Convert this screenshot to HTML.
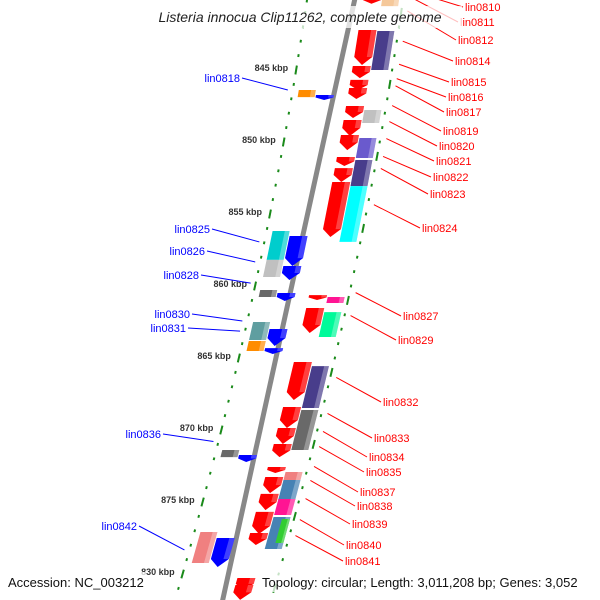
<!DOCTYPE html>
<html><head><meta charset="utf-8"><style>
html,body{margin:0;padding:0;background:#fff;}
svg{display:block;font-family:"Liberation Sans",sans-serif;}
</style></head><body>
<svg id="map" width="600" height="600" viewBox="0 0 600 600">
<g id="ticks"></g>
<line id="bb"/>
<g id="genes"></g>
<g id="labels"></g>
<rect x="140" y="6" width="322" height="22" fill="#fff" fill-opacity="0.75"/>
<text x="300" y="22" text-anchor="middle" font-size="14" font-style="italic" fill="#222">Listeria innocua Clip11262, complete genome</text>
<rect x="4" y="572" width="142" height="20" fill="#fff" fill-opacity="0.75"/>
<text x="8" y="587" font-size="13" fill="#111">Accession: NC_003212</text>
<rect x="258" y="572" width="336" height="20" fill="#fff" fill-opacity="0.75"/>
<text x="262" y="587" font-size="13" fill="#111">Topology: circular; Length: 3,011,208 bp; Genes: 3,052</text>
</svg>
<script>
// ---- data ----
const tickKbp = [845, 850, 855, 860, 865, 870, 875, 880];
const tickLabels = ["845 kbp","850 kbp","855 kbp","860 kbp","865 kbp","870 kbp","875 kbp","830 kbp"];
const fwdCdsStart = [839.9, 842.22, 844.72, 845.69, 846.25, 847.5, 848.47, 849.51, 851.04, 851.81, 852.78, 860.63, 861.53, 865.28, 868.4, 869.86, 870.97, 872.57, 873.26, 874.44, 875.69, 877.15, 880.28, 880.76];
const fwdCdsEnd   = [840.4, 844.65, 845.56, 846.39, 847.01, 848.33, 849.58, 850.56, 851.67, 852.78, 856.6, 860.97, 863.26, 867.92, 869.86, 870.97, 871.88, 872.99, 874.38, 875.56, 877.22, 877.99, 281.1+600, 881.8];
const fwdBoxStart = [839.8, 840.1, 842.29, 847.78, 849.72, 851.25, 853.06, 860.76, 861.81, 865.56, 868.61, 872.92, 873.47, 874.79, 876.04, 876.18];
const fwdBoxEnd   = [840.1, 840.6, 845.0, 848.68, 851.11, 853.06, 856.94, 861.18, 863.54, 868.47, 871.39, 873.47, 874.86, 875.9, 878.26, 877.85];
const fwdBoxColor = ["#bbbbbb","#f5c89a","#483d8b","#c0c0c0","#6a5acd","#483d8b","#00ffff","#ff1493","#00fa9a","#483d8b","#696969","#f08080","#4682b4","#ff1493","#4682b4","#32cd32"];
const revCdsStart = [846.74, 856.53, 858.61, 860.49, 862.99, 864.31, 871.74, 877.5];
const revCdsEnd   = [847.08, 858.61, 859.58, 861.04, 864.17, 864.72, 872.22, 879.51];
const revBoxStart = [846.39, 856.18, 858.19, 860.28, 862.5, 863.82, 871.39, 877.08];
const revBoxEnd   = [846.88, 858.19, 859.375, 860.76, 863.75, 864.51, 871.88, 879.24];
const revBoxColor = ["#ff8c00","#00cdcd","#c0c0c0","#696969","#5f9ea0","#ff8c00","#696969","#f08080"];
const rightNames = ["lin0810","lin0811","lin0812","lin0814","lin0815","lin0816","lin0817","lin0819","lin0820","lin0821","lin0822","lin0823","lin0824","lin0827","lin0829","lin0832","lin0833","lin0834","lin0835","lin0837","lin0838","lin0839","lin0840","lin0841"];
const rightAnchorKbp = [839.5,839.9,840.9,843.0,844.6,845.6,846.1,847.47,848.58,849.76,851.0,851.84,854.35,860.46,862.05,866.35,868.85,870.1,871.15,872.53,873.5,874.76,876.22,877.33];
const leftNames = ["lin0818","lin0825","lin0826","lin0828","lin0830","lin0831","lin0836","lin0842"];
const leftAnchorKbp = [846.39,856.94,858.33,859.8,862.43,863.13,870.8,878.33];
// label positions (layout, not data)
const rightLabelPos = [[465,11],[460,26],[458,44],[455,65],[451,86],[448,101],[446,116],[443,135],[439,150],[436,165],[433,181],[430,198],[422,232],[403,320],[398,344],[383,406],[374,442],[369,461],[366,476],[360,496],[357,510],[352,528],[346,549],[345,565]];
const leftLabelPos = [[240,82],[210,233],[205,255],[199,279],[190,318],[186,332],[161,438],[137,530]];

// ---- axis functions ----
const yOf = k => 70 + (k - 845) * 14.4;
const xOf = y => 355 - 0.1467 * y - 0.000122 * y * y;
const tan = y => -0.1467 - 0.000244 * y;
const NS = "http://www.w3.org/2000/svg";
function mk(tag, attrs, parent){const e=document.createElementNS(NS,tag);for(const k in attrs)e.setAttribute(k,attrs[k]);parent.appendChild(e);return e;}
function pt(k,off){const y=yOf(k);return [xOf(y)+off,y];}

const bb=document.getElementById('bb');
bb.setAttribute('x1',xOf(-5));bb.setAttribute('y1',-5);bb.setAttribute('x2',xOf(605));bb.setAttribute('y2',605);
bb.setAttribute('stroke','#888');bb.setAttribute('stroke-width','5');

// ticks
const tg=document.getElementById('ticks');
for(let k=838;k<=883;k++){
  [-48,48].forEach(off=>{
    const major = off<0 ? (k%5===0) : (((k-1)%5)===0);
    const len = major?4.5:1.4;
    const y=yOf(k), x=xOf(y)+off, t=tan(y), n=Math.hypot(t,1);
    const d=mk('line',{x1:x-len*t/n,y1:y-len/n,x2:x+len*t/n,y2:y+len/n,stroke:'#1a8a1a','stroke-width':2},tg);
    
    
  });
}
tickKbp.forEach((k,i)=>{
  const [x,y]=pt(k,-48);
  const t=mk('text',{x:x-8,y:y+1,'font-size':9,'text-anchor':'end',fill:'#333','font-weight':'bold'},tg);
  t.textContent=tickLabels[i];
  
  
});

// genes
const gg=document.getElementById('genes');
function quad(k1,k2,o1,o2){const a=pt(k1,o1),b=pt(k1,o2),c=pt(k2,o2),d=pt(k2,o1);return [a,b,c,d];}
function poly(ps,fill,name){const p=mk('polygon',{points:ps.map(p=>p.join(',')).join(' '),fill:fill},gg);return p;}
function shade(ps,o1,o2,k1,k2){}
function box(k1,k2,o1,o2,color,name){
  poly(quad(k1,k2,o1,o2),color,name);
  const w=(o2-o1);
  const s=mk('polygon',{points:quad(k1,k2,o1+w*0.72,o2).map(p=>p.join(',')).join(' '),fill:'#fff','fill-opacity':0.3},gg);
  
  
}
function arrow(k1,k2,o1,o2,color,dir,name){
  const len=k2-k1, head=Math.min(0.55,len*0.5);
  const om=(o1+o2)/2;
  let ps;
  if(dir>0){ps=[pt(k1,o1),pt(k1,o2),pt(k2-head,o2),pt(k2,om),pt(k2-head,o1)];}
  else{ps=[pt(k2,o1),pt(k2,o2),pt(k1+head,o2),pt(k1,om),pt(k1+head,o1)];}
  poly(ps,color,name);
  const w=o2-o1;
  const s=mk('polygon',{points:quad(dir>0?k1:k1+head,dir>0?k2-head:k2,o1+w*0.7,o2).map(p=>p.join(',')).join(' '),fill:'#fff','fill-opacity':0.25},gg);
  
  
}
fwdCdsStart.forEach((s,i)=>arrow(s,fwdCdsEnd[i],8,26,'#ff0000',1,'forward-cds'));
fwdBoxStart.forEach((s,i)=>{const narrow=(i===fwdBoxStart.length-1);box(s,fwdBoxEnd[i],narrow?36:27,44,fwdBoxColor[i],'forward-cog-box');});
revCdsStart.forEach((s,i)=>arrow(s,revCdsEnd[i],-24,-6,'#0000ff',1,'reverse-cds'));
revBoxStart.forEach((s,i)=>box(s,revBoxEnd[i],-42,-25,revBoxColor[i],'reverse-cog-box'));

// labels
const lg=document.getElementById('labels');
rightNames.forEach((n,i)=>{
  const [ax,ay]=pt(rightAnchorKbp[i],54);
  const [lx,ly]=rightLabelPos[i];
  const l=mk('line',{x1:ax,y1:ay,x2:lx-2,y2:ly-4,stroke:'#ff0000','stroke-width':1},lg);
  
  
  const t=mk('text',{x:lx,y:ly,'font-size':11,fill:'#ff0000'},lg);
  t.textContent=n;
  
  
});
leftNames.forEach((n,i)=>{
  const [ax,ay]=pt(leftAnchorKbp[i],-53);
  const [lx,ly]=leftLabelPos[i];
  const l=mk('line',{x1:lx+2,y1:ly-4,x2:ax,y2:ay,stroke:'#0000ff','stroke-width':1},lg);
  
  
  const t=mk('text',{x:lx,y:ly,'font-size':11,fill:'#0000ff','text-anchor':'end'},lg);
  t.textContent=n;
  
  
});
</script>
</body></html>
